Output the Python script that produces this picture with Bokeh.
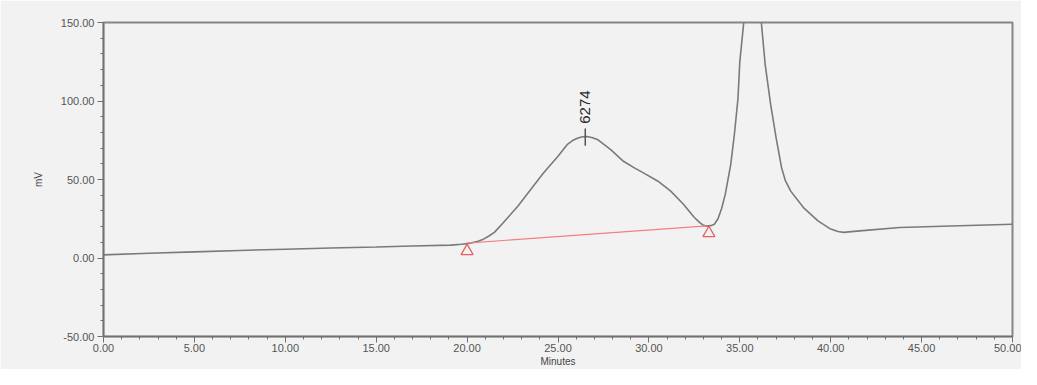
import math
from bokeh.plotting import figure
from bokeh.models import Range1d, PrintfTickFormatter, FixedTicker
from bokeh.core.properties import value
from bokeh.embed import file_html
from bokeh.resources import INLINE

# Chromatogram trace (minutes, mV)
minutes = [0.0, 2.5, 5.0, 7.5, 10.0, 12.5, 15.0, 17.0, 19.1, 19.7, 20.2, 20.6, 20.9, 21.2,
           21.5, 22.0, 22.8, 23.5, 24.2, 25.0, 25.5, 25.8, 26.1, 26.35, 26.6, 26.9, 27.2,
           27.9, 28.6, 29.2, 29.7, 30.5, 31.2, 31.9, 32.5, 32.8, 33.0, 33.2, 33.4, 33.6,
           33.8, 34.0, 34.2, 34.5, 34.7, 34.9, 35.0, 35.2, 35.45, 35.7, 36.0, 36.2, 36.4,
           36.7, 37.0, 37.3, 37.5, 37.8, 38.5, 39.3, 40.0, 40.4, 40.7, 41.6, 43.8, 46.6, 50.0]
mv = [2.0, 3.0, 3.9, 4.8, 5.6, 6.4, 7.0, 7.6, 8.2, 8.8, 9.5, 10.6, 12.0, 14.0,
      16.3, 22.6, 33.1, 43.7, 54.2, 64.8, 72.2, 74.8, 76.4, 77.2, 77.4, 76.6, 75.3,
      69.0, 61.6, 57.4, 54.2, 48.9, 42.6, 34.2, 25.8, 22.5, 20.8, 20.3, 20.6, 21.5,
      25.0, 31.5, 40.5, 59.5, 78.5, 101.7, 124.9, 148.0, 185.0, 205.0, 185.0, 148.0, 122.8,
      97.5, 76.4, 57.4, 49.5, 42.6, 32.1, 23.6, 18.4, 16.9, 16.3, 17.3, 19.4, 20.4, 21.5]

# Integration baseline and markers
base_x = [20.0, 33.2]
base_y = [9.5, 20.5]
marker_x = [20.0, 33.3]
marker_y = [4.4, 15.8]

# Peak label
peak_x = 26.5
peak_y = 77.5
peak_label = "6274"

x_ticks = [0, 5, 10, 15, 20, 25, 30, 35, 40, 45, 50]
y_ticks = [-50, 0, 50, 100, 150]

BG = "#f2f2f2"
FONT = "Liberation Sans"

p = figure(width=1021, height=369, output_backend="svg", toolbar_location=None,
           x_range=Range1d(0, 50), y_range=Range1d(-50, 150),
           min_border_left=103, min_border_right=9, min_border_top=22, min_border_bottom=31)
p.background_fill_color = BG
p.border_fill_color = BG
p.outline_line_color = "#858585"
p.outline_line_width = 2
p.xgrid.visible = False
p.ygrid.visible = False

p.line(minutes, mv, line_color="#7a7a7a", line_width=1.6)
p.line(base_x, base_y, line_color="#f28080", line_width=1.2)
p.scatter(marker_x, marker_y, marker="triangle", size=12, fill_color=None,
          line_color="#e86060", line_width=1.3)
p.segment(x0=[peak_x], y0=[peak_y - 6], x1=[peak_x], y1=[peak_y + 5],
          line_color="#555555", line_width=1.5)
p.text(x=[peak_x], y=[peak_y + 8], text=[peak_label], angle=math.pi / 2,
       text_align="left", text_baseline="middle", text_font=value(FONT),
       text_font_size="15px", text_color="#2a2a2a")

for ax in (p.xaxis[0], p.yaxis[0]):
    ax.formatter = PrintfTickFormatter(format="%.2f")
    ax.axis_line_color = "#707070"
    ax.axis_line_width = 1.5
    ax.major_tick_line_color = "#707070"
    ax.minor_tick_line_color = "#707070"
    ax.major_tick_in = 0
    ax.major_tick_out = 6
    ax.minor_tick_in = 0
    ax.minor_tick_out = 3
    ax.major_label_text_font = FONT
    ax.major_label_text_font_size = "11px"
    ax.major_label_text_color = "#555555"
    ax.axis_label_text_font = FONT
    ax.axis_label_text_font_size = "10px"
    ax.axis_label_text_font_style = "normal"
    ax.axis_label_text_color = "#444444"

p.xaxis[0].ticker = FixedTicker(ticks=x_ticks, minor_ticks=list(range(0, 51)))
p.yaxis[0].ticker = FixedTicker(ticks=y_ticks, minor_ticks=list(range(-50, 151, 10)))
p.xaxis.axis_label = "Minutes"
p.yaxis.axis_label = "mV"
p.xaxis.major_label_standoff = 1
p.xaxis.axis_label_standoff = 1
p.yaxis.major_label_standoff = 3
p.yaxis.axis_label_standoff = 14

open("out.html", "w").write(file_html(p, INLINE))
